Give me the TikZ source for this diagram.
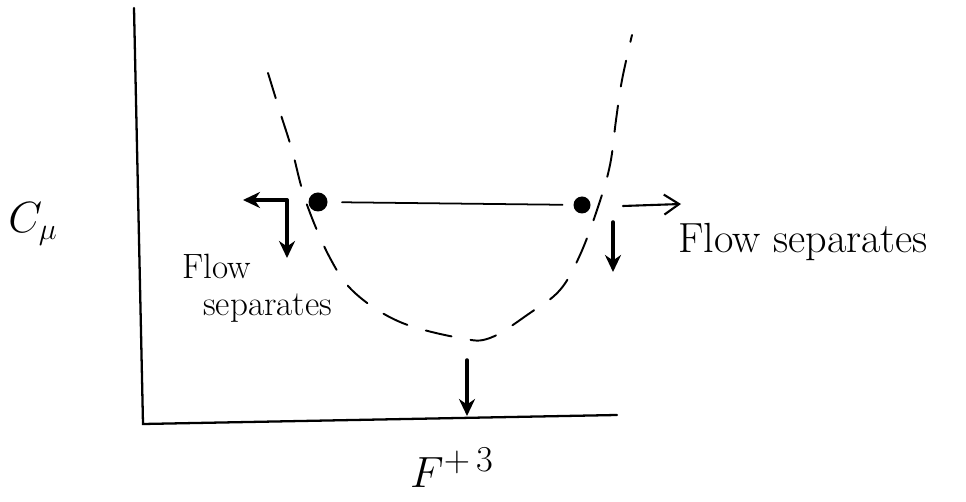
\documentclass[tikz,border=0pt]{standalone}
\usepackage{amsmath}
\usepackage{tikz}
\usetikzlibrary{arrows.meta, positioning}

\begin{document}
\begin{tikzpicture}[x=0.02cm, y=-0.02cm, line cap=round,
  dot/.style={circle, fill=black, inner sep=0pt},
  flowarrow/.style={line width=2pt, -{Stealth[length=3.4mm, width=3.2mm]}},
  labeltext/.style={font=\fontsize{24}{28}\selectfont}]
\useasboundingbox (0,0) rectangle (966,502);

% axes
\coordinate (ytop) at (134,8);
\coordinate (origin) at (143,424);
\coordinate (xend) at (617,415);
\draw[line width=1.3pt] (ytop) -- (origin) -- (xend);

% dashed U-shaped curve
\draw[line width=1.1pt, dash pattern=on 15pt off 11pt] plot[smooth, tension=0.6] coordinates {
  (268,73) (280,112) (292,150) (306,202) (330,258) (355,293) (400,322)
  (460,338) (490,338) (530,313) (560,290) (580,255) (598,207) (610,165)
  (616,120) (622,80) (632,35)};

% operating points
\node[dot, minimum size=0.38cm] (ldot) at (318,202) {};
\node[dot, minimum size=0.34cm] (rdot) at (582,205) {};
\draw[line width=1pt, shorten <=8pt, shorten >=6pt] (ldot) -- (rdot);

% arrows at the left point
\coordinate (lcorner) at (287,200);
\coordinate (lleft) at (243,200);
\coordinate (ldown) at (287,258);
\draw[flowarrow] (lcorner) -- (lleft);
\draw[flowarrow] (lcorner) -- (ldown);

% arrows at the right point
\coordinate (rstart) at (623,206);
\coordinate (rright) at (681,204);
\draw[line width=1.2pt, -{Straight Barb[length=3mm, width=4mm]}] (rstart) -- (rright);
\coordinate (rtop) at (613,222);
\coordinate (rdown) at (613,272);
\draw[flowarrow] (rtop) -- (rdown);

% arrow to the minimum
\coordinate (mtop) at (467,360);
\coordinate (maxis) at (467,416);
\draw[flowarrow] (mtop) -- (maxis);

% labels
\node[font=\fontsize{24}{28}\selectfont] (cmu) at (33,224) {$C_\mu$};
\node[font=\fontsize{28}{32}\selectfont] (fplus) at (452,468) {$F^{+\,3}$};
\node[font=\fontsize{20}{23}\selectfont, align=left, anchor=north west] (lsep) at (176,248) {Flow\\[-2pt]\hspace*{0.6em}separates};
\node[labeltext, anchor=west] (rsep) at (672,242) {Flow separates};
\end{tikzpicture}
\end{document}
